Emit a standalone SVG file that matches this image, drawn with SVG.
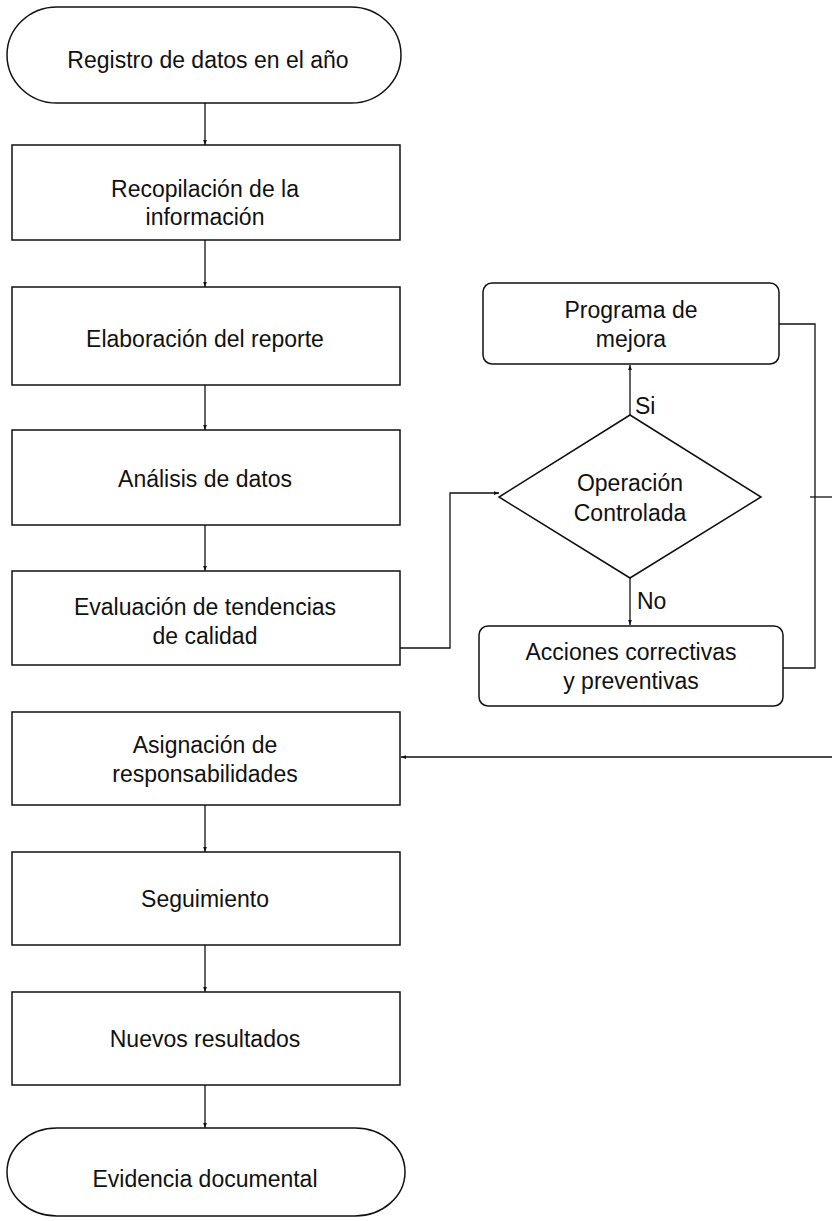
<svg xmlns="http://www.w3.org/2000/svg" width="832" height="1221" viewBox="0 0 832 1221">
<style>
.s{fill:#fff;stroke:#111;stroke-width:1.5}
.t{font-family:"Liberation Sans",Arial,sans-serif;font-size:23px;fill:#111;text-anchor:middle}
.l{font-family:"Liberation Sans",Arial,sans-serif;font-size:23px;fill:#111}
.c{fill:none;stroke:#111;stroke-width:1.3}
</style>
<defs>
<marker id="a" viewBox="0 0 8 8" refX="8" refY="4" markerWidth="5" markerHeight="5" orient="auto" markerUnits="userSpaceOnUse">
<path d="M0,1 L8,4 L0,7 Z" fill="#111"/>
</marker>
</defs>
<rect width="832" height="1221" fill="#fff"/>
<g id="connectors">
<path class="c" d="M205,103 V145" marker-end="url(#a)"/>
<path class="c" d="M205,240 V287" marker-end="url(#a)"/>
<path class="c" d="M205,385 V430" marker-end="url(#a)"/>
<path class="c" d="M205,525 V571" marker-end="url(#a)"/>
<path class="c" d="M400,648 H450 V493 H499" marker-end="url(#a)"/>
<path class="c" d="M630,415 V365" marker-end="url(#a)"/>
<path class="c" d="M630,578 V625" marker-end="url(#a)"/>
<path class="c" d="M779,324 H815 V668 H783"/>
<path class="c" d="M810,497 H832"/>
<path class="c" d="M832,757 H401" marker-end="url(#a)"/>
<path class="c" d="M205,805 V852" marker-end="url(#a)"/>
<path class="c" d="M205,945 V992" marker-end="url(#a)"/>
<path class="c" d="M205,1085 V1128" marker-end="url(#a)"/>
<text class="l" x="635" y="414">Si</text>
<text class="l" x="637" y="609">No</text>
</g>
<g id="n1"><rect class="s" x="7" y="7" width="394" height="96" rx="50" ry="48"/><text class="t" x="208" y="68">Registro de datos en el año</text></g>
<g id="n2"><rect class="s" x="12" y="145" width="388" height="95"/><text class="t" x="205" y="197">Recopilación de la</text><text class="t" x="205" y="225">información</text></g>
<g id="n3"><rect class="s" x="12" y="287" width="388" height="98"/><text class="t" x="205" y="347">Elaboración del reporte</text></g>
<g id="n4"><rect class="s" x="12" y="430" width="388" height="95"/><text class="t" x="205" y="487">Análisis de datos</text></g>
<g id="n5"><rect class="s" x="12" y="571" width="388" height="94"/><text class="t" x="205" y="615">Evaluación de tendencias</text><text class="t" x="205" y="644">de calidad</text></g>
<g id="n6"><path class="s" d="M630,415 L761,497 L630,578 L499,497 Z"/><text class="t" x="630" y="491">Operación</text><text class="t" x="630" y="521">Controlada</text></g>
<g id="n7"><rect class="s" x="483" y="283" width="296" height="81" rx="9"/><text class="t" x="631" y="318">Programa de</text><text class="t" x="631" y="347">mejora</text></g>
<g id="n8"><rect class="s" x="479" y="626" width="304" height="80" rx="9"/><text class="t" x="631" y="660">Acciones correctivas</text><text class="t" x="631" y="689">y preventivas</text></g>
<g id="n9"><rect class="s" x="12" y="712" width="388" height="93"/><text class="t" x="205" y="753">Asignación de</text><text class="t" x="205" y="782">responsabilidades</text></g>
<g id="n10"><rect class="s" x="12" y="852" width="388" height="93"/><text class="t" x="205" y="907">Seguimiento</text></g>
<g id="n11"><rect class="s" x="12" y="992" width="388" height="93"/><text class="t" x="205" y="1047">Nuevos resultados</text></g>
<g id="n12"><rect class="s" x="7" y="1128" width="398" height="88" rx="50" ry="44"/><text class="t" x="205" y="1187">Evidencia documental</text></g>
</svg>
